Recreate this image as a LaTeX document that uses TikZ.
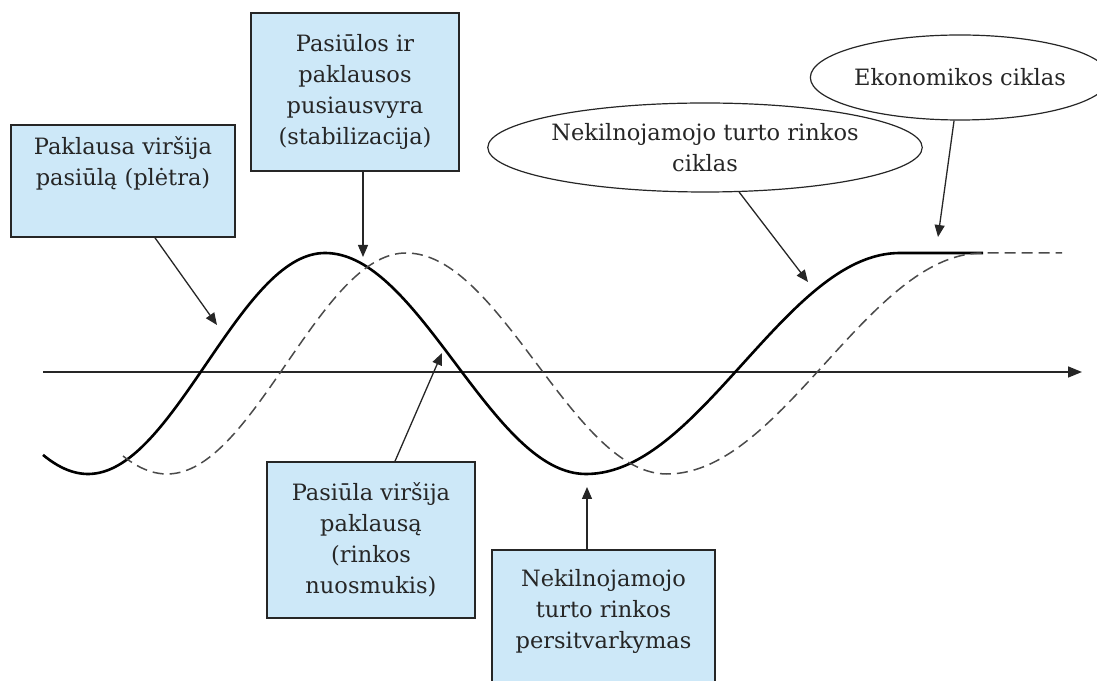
\documentclass[tikz,border=0pt]{standalone}
\usepackage{fontspec}
\setmainfont{DejaVu Serif}
\usetikzlibrary{shapes.geometric, arrows.meta}
\definecolor{ink}{HTML}{262626}
\definecolor{sky}{HTML}{CDE8F8}
\definecolor{dashgray}{HTML}{4A4A4A}

\begin{document}
\begin{tikzpicture}[x=10pt, y=10pt, font=\fontsize{22.5}{31}\selectfont, text=ink,
  box/.style={draw=ink, line width=1.6pt, fill=sky, align=center, inner sep=0pt},
  oval/.style={draw=ink, line width=1.2pt, ellipse, fill=white, align=center, inner sep=0pt},
  arr/.style={-{Triangle[length=12pt, width=10pt]}, line width=1.3pt, draw=ink},
  cyc/.style={line width=2.6pt, black, line join=round},
  lagged/.style={line width=1.5pt, dashgray, dash pattern=on 11pt off 6pt}
]
  \useasboundingbox (0,0) rectangle (109.7,68);

  % axis
  \coordinate (ax0) at (4.3,30.8);
  \coordinate (ax1) at (108.2,30.8);
  \draw[line width=1.5pt, ink, -{Triangle[length=14pt, width=11pt]}] (ax0) -- (ax1);

  % market cycle (solid) and economy cycle (dashed)
  \draw[cyc] plot[domain=4.3:32.5, samples=80] (\x, {31.65-11.05*cos(180*(\x-8.8)/23.7)})
    -- plot[domain=32.5:58.6, samples=80] (\x, {31.65+11.05*cos(180*(\x-32.5)/26.1)})
    -- plot[domain=58.6:90, samples=80] (\x, {31.65-11.05*cos(180*(\x-58.6)/31.4)})
    -- (98.3,42.7);
  \draw[lagged] plot[domain=12.3:40.6, samples=80] (\x, {31.65-11.05*cos(180*(\x-16.7)/23.9)})
    -- plot[domain=40.6:66.7, samples=80] (\x, {31.65+11.05*cos(180*(\x-40.6)/26.1)})
    -- plot[domain=66.7:98.3, samples=80] (\x, {31.65-11.05*cos(180*(\x-66.7)/31.6)})
    -- (106.2,42.7);

  % arrow targets on the curves
  \coordinate (t1) at (21.7,35.5);
  \coordinate (t2) at (36.3,42.3);
  \coordinate (t3) at (44.2,32.7);
  \coordinate (t4) at (58.7,19.3);
  \coordinate (t5) at (80.8,39.8);
  \coordinate (t6) at (93.8,44.3);

  \node[box, minimum width=224pt, minimum height=112pt] (pl) at (12.3,49.9)
    {Paklausa viršija\\pasiūlą (plėtra)\\\strut};
  \node[box, minimum width=208pt, minimum height=158pt] (st) at (35.5,58.8)
    {Pasiūlos ir\\paklausos\\pusiausvyra\\(stabilizacija)};
  \node[box, minimum width=208pt, minimum height=156pt] (ns) at (37.1,14.0)
    {Pasiūla viršija\\paklausą\\(rinkos\\nuosmukis)};
  \node[box, minimum width=223pt, minimum height=158pt] (ps) at (60.35,5.1)
    {Nekilnojamojo\\turto rinkos\\persitvarkymas\\\strut};
  \node[oval, minimum width=336pt, minimum height=89pt] (nc) at (70.5,53.25)
    {Nekilnojamojo turto rinkos\\ciklas};
  \node[oval, minimum width=272pt, minimum height=85pt] (ek) at (96,60.25)
    {Ekonomikos ciklas};

  \draw[arr] ([xshift=32pt]pl.south) -- (t1);
  \draw[arr] (st.south -| t2) -- (t2);
  \draw[arr] ([xshift=24pt]ns.north) -- (t3);
  \draw[arr] (ps.north -| t4) -- (t4);
  \foreach \a/\b in {nc/t5, ek/t6} \draw[arr] (\a) -- (\b);
\end{tikzpicture}
\end{document}
